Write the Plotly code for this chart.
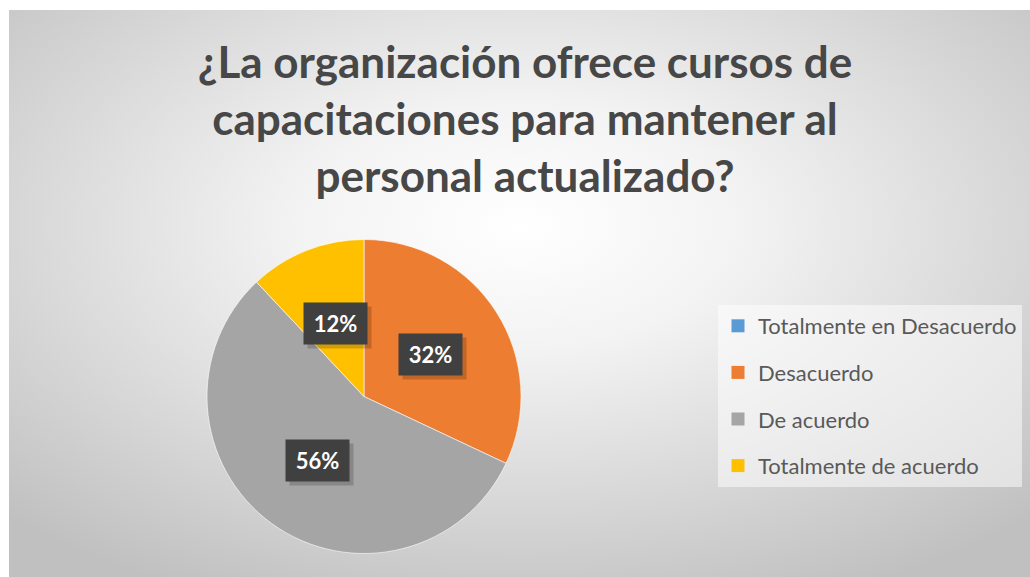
import base64
import math
import plotly.graph_objects as go

# ---------------- data ----------------
categories = ["Totalmente en Desacuerdo", "Desacuerdo", "De acuerdo", "Totalmente de acuerdo"]
values = [0, 8, 14, 3]          # responses (0%, 32%, 56%, 12%)
colors = ["#5B9BD5", "#ED7D31", "#A5A5A5", "#FFC000"]
title_lines = ["¿La organización ofrece cursos de",
               "capacitaciones para mantener al",
               "personal actualizado?"]

# ---------------- layout constants ----------------
W, H = 1021, 567
PIE_CX, PIE_CY, PIE_R = 355, 386.5, 157   # pixels in figure
FONT = "Lato"

fig = go.Figure()
fig.add_trace(go.Pie(
    labels=categories, values=values, sort=False, direction="clockwise", rotation=0,
    marker=dict(colors=colors, line=dict(color="rgba(255,255,255,0.6)", width=1)),
    textinfo="none", hoverinfo="label+percent", showlegend=False,
    domain=dict(x=[(PIE_CX - PIE_R) / W, (PIE_CX + PIE_R) / W],
                y=[(H - PIE_CY - PIE_R) / H, (H - PIE_CY + PIE_R) / H]),
))

# legend entries (one group each so spacing can be controlled)
for cat, col in zip(categories, colors):
    fig.add_trace(go.Scatter(
        x=[None], y=[None], mode="markers", name=cat, legendgroup=cat,
        marker=dict(symbol="square", size=13, color=col),
        showlegend=True, hoverinfo="skip"))

# data labels placed at half radius at each slice's mid-angle
total = sum(values)
cum = 0
annotations = []
for v in values:
    if v > 0:
        mid = (cum + v / 2) / total * 2 * math.pi
        ax = (PIE_CX + 0.5 * PIE_R * math.sin(mid)) / W
        ay = (H - (PIE_CY - 0.5 * PIE_R * math.cos(mid))) / H
        txt = f"{round(v / total * 100)}%"
        # soft shadow
        annotations.append(dict(
            x=ax, y=ay, xref="paper", yref="paper", text=" ", showarrow=False,
            xanchor="center", yanchor="middle",
            width=63, height=41, bgcolor="rgba(0,0,0,0.18)", borderpad=0,
            xshift=4, yshift=-4))
        annotations.append(dict(
            x=ax, y=ay, xref="paper", yref="paper", text=txt, showarrow=False,
            xanchor="center", yanchor="middle",
            width=63, height=41, bgcolor="#404040", borderpad=0,
            font=dict(family=FONT, size=22, color="white", weight="bold")))
    cum += v

svg = (f'<svg xmlns="http://www.w3.org/2000/svg" width="{W}" height="{H}" '
       f'viewBox="0 0 {W} {H}" preserveAspectRatio="none">'
       '<defs><radialGradient id="g" cx="0.5" cy="0.38" r="0.72">'
       '<stop offset="0" stop-color="#ffffff"/>'
       '<stop offset="0.3" stop-color="#f3f3f3"/>'
       '<stop offset="1" stop-color="#c0c0c0"/>'
       '</radialGradient></defs>'
       f'<rect width="{W}" height="{H}" fill="url(#g)"/></svg>')
bg_src = "data:image/svg+xml;base64," + base64.b64encode(svg.encode()).decode()

fig.update_layout(
    width=W, height=H,
    margin=dict(l=0, r=0, t=0, b=0),
    paper_bgcolor="#d9d9d9", plot_bgcolor="rgba(0,0,0,0)",
    xaxis=dict(visible=False), yaxis=dict(visible=False),
    images=[dict(source=bg_src, xref="paper", yref="paper", x=0, y=1,
                 sizex=1, sizey=1, sizing="stretch", layer="below",
                 xanchor="left", yanchor="top")],
    title=dict(text="<br>".join(title_lines), x=516 / W, xanchor="center",
               y=1 - 68 / H, yanchor="top", yref="container",
               font=dict(family=FONT, size=44, color="#474747", weight="bold")),
    legend=dict(x=709 / W, y=(H - 295) / H, xanchor="left", yanchor="top",
                bgcolor="rgba(255,255,255,0.5)",
                font=dict(family=FONT, size=22, color="#595959"),
                tracegroupgap=15, itemwidth=30),
    annotations=annotations,
    showlegend=True,
)

fig.write_html("out.html", post_script=(
    "document.body.style.margin='10px 0 0 9px';"
    "document.body.style.overflow='hidden';"))
